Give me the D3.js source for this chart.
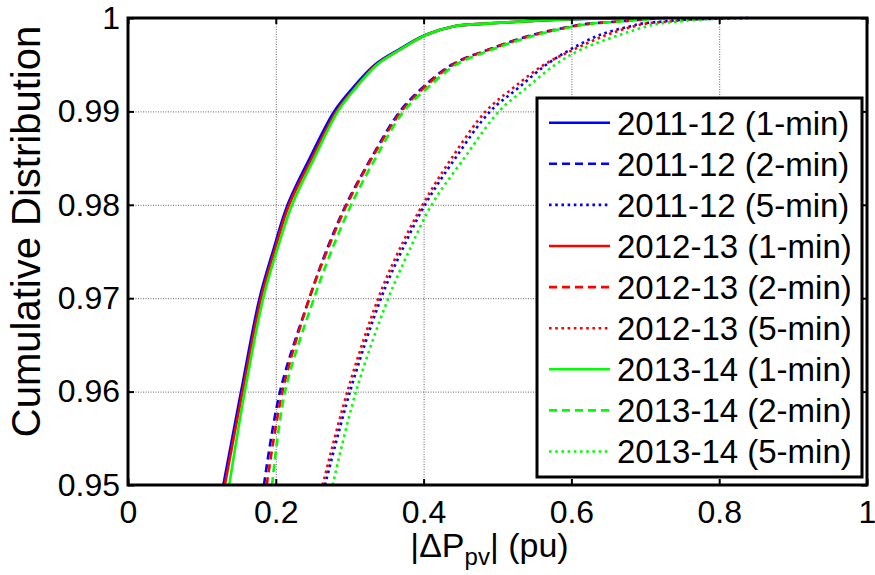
<!DOCTYPE html>
<html>
<head>
<meta charset="utf-8">
<script src="https://cdn.jsdelivr.net/npm/d3@7"></script>
<style>
  html, body { margin: 0; padding: 0; background: #fff; }
  svg { display: block; font-family: "Liberation Sans", Arial, sans-serif; }
</style>
</head>
<body>
<svg id="chart" width="875" height="575"></svg>
<script>
// ---- data ----
const cdfLevels = [0.95, 0.96, 0.97, 0.975, 0.98, 0.985, 0.99, 0.9925, 0.995, 0.9966, 0.9982, 0.9991, 0.9994, 0.9996, 0.9998, 1.0];

const x2011_1 = [0.129, 0.153, 0.178, 0.196, 0.216, 0.246, 0.279, 0.304, 0.334, 0.366, 0.403, 0.440, 0.484, 0.528, 0.575, 0.68];
const x2011_2 = [0.184, 0.2057, 0.2454, 0.268, 0.295, 0.329, 0.368, 0.398, 0.438, 0.487, 0.548, 0.600, 0.624, 0.660, 0.690, 0.73];
const x2011_5 = [0.2666, 0.3004, 0.3424, 0.370, 0.4019, 0.443, 0.490, 0.528, 0.566, 0.598, 0.6387, 0.679, 0.695, 0.720, 0.750, 0.84];
const x2012_1 = [0.131, 0.155, 0.180, 0.198, 0.218, 0.249, 0.282, 0.307, 0.336, 0.368, 0.404, 0.440, 0.484, 0.526, 0.571, 0.66];
const x2012_2 = [0.1877, 0.209, 0.2454, 0.269, 0.296, 0.330, 0.370, 0.400, 0.440, 0.488, 0.550, 0.602, 0.626, 0.661, 0.690, 0.72];
const x2012_5 = [0.2634, 0.2968, 0.3387, 0.366, 0.3987, 0.438, 0.484, 0.521, 0.563, 0.6026, 0.648, 0.684, 0.700, 0.729, 0.755, 0.80];
const x2013_1 = [0.137, 0.158, 0.183, 0.201, 0.222, 0.252, 0.284, 0.308, 0.337, 0.368, 0.404, 0.440, 0.484, 0.526, 0.575, 0.67];
const x2013_2 = [0.195, 0.2125, 0.2517, 0.275, 0.302, 0.335, 0.373, 0.405, 0.444, 0.492, 0.553, 0.604, 0.628, 0.663, 0.695, 0.73];
const x2013_5 = [0.277, 0.3085, 0.3523, 0.380, 0.4109, 0.455, 0.502, 0.539, 0.578, 0.6125, 0.6658, 0.702, 0.718, 0.7425, 0.770, 0.82];

const seriesNames = ["2011-12 (1-min)", "2011-12 (2-min)", "2011-12 (5-min)",
                     "2012-13 (1-min)", "2012-13 (2-min)", "2012-13 (5-min)",
                     "2013-14 (1-min)", "2013-14 (2-min)", "2013-14 (5-min)"];
const seriesX = [x2011_1, x2011_2, x2011_5, x2012_1, x2012_2, x2012_5, x2013_1, x2013_2, x2013_5];
const seriesColor = ["#0000ff", "#0000ff", "#0000ff", "#ff0000", "#ff0000", "#ff0000", "#00ff00", "#00ff00", "#00ff00"];
const seriesStyle = ["solid", "dashed", "dotted", "solid", "dashed", "dotted", "solid", "dashed", "dotted"];

const xTicks = [0, 0.2, 0.4, 0.6, 0.8, 1];
const yTicks = [0.95, 0.96, 0.97, 0.98, 0.99, 1];
const yLabel = "Cumulative Distribution";

// ---- layout ----
const W = 875, H = 575;
const m = { left: 128, right: 8, top: 18, bottom: 90 };
const pw = W - m.left - m.right, ph = H - m.top - m.bottom;
const dashFor = { solid: null, dashed: "8,5", dotted: "2.6,3.6" };

const svg = d3.select("#chart");
const g = svg.append("g").attr("transform", `translate(${m.left},${m.top})`);

const x = d3.scaleLinear().domain([0, 1]).range([0, pw]);
const y = d3.scaleLinear().domain([0.95, 1]).range([ph, 0]);

// grid
const gridX = g.append("g").attr("transform", `translate(0,${ph})`)
  .call(d3.axisBottom(x).tickValues(xTicks).tickSize(-ph).tickFormat(""));
const gridY = g.append("g")
  .call(d3.axisLeft(y).tickValues(yTicks).tickSize(-pw).tickFormat(""));
[gridX, gridY].forEach(s => {
  s.select(".domain").remove();
  s.selectAll("line").attr("stroke", "#666").attr("stroke-width", 1).attr("stroke-dasharray", "1,1.5");
});

// clip
svg.append("defs").append("clipPath").attr("id", "clip")
  .append("rect").attr("x", 0).attr("y", -2).attr("width", pw).attr("height", ph + 2);

const line = d3.line()
  .x(d => x(d[0])).y(d => y(d[1]))
  .curve(d3.curveCatmullRom.alpha(0.5));

const plot = g.append("g").attr("clip-path", "url(#clip)");
seriesX.forEach((xs, i) => {
  const pts = xs.map((v, k) => [v, cdfLevels[k]]);
  plot.append("path").datum(pts)
    .attr("d", line)
    .attr("fill", "none")
    .attr("stroke", seriesColor[i])
    .attr("stroke-width", 2.6)
    .attr("stroke-dasharray", dashFor[seriesStyle[i]]);
});

// axes (ticks inward)
const fs = 32;
const ax = g.append("g").attr("transform", `translate(0,${ph})`)
  .call(d3.axisBottom(x).tickValues(xTicks).tickSize(-6).tickPadding(15).tickFormat(d3.format("")));
const axT = g.append("g")
  .call(d3.axisTop(x).tickValues(xTicks).tickSize(-6).tickFormat(""));
const ay = g.append("g")
  .call(d3.axisLeft(y).tickValues(yTicks).tickSize(-6).tickPadding(8).tickFormat(d3.format("")));
const ayR = g.append("g").attr("transform", `translate(${pw},0)`)
  .call(d3.axisRight(y).tickValues(yTicks).tickSize(-6).tickFormat(""));
[ax, axT, ay, ayR].forEach(s => {
  s.select(".domain").remove();
  s.selectAll("line").attr("stroke", "#000").attr("stroke-width", 2);
  s.selectAll("text").attr("fill", "#000").attr("font-size", fs)
    .attr("font-family", "'Liberation Sans', Arial, sans-serif");
});

// legend
const lg = g.append("g");
const lx0 = 537 - m.left, ly0 = 98 - m.top, lw = 862 - 537, lh = 477 - 98;
lg.append("rect").attr("x", lx0).attr("y", ly0).attr("width", lw).attr("height", lh)
  .attr("fill", "#fff").attr("stroke", "#000").attr("stroke-width", 3);
seriesNames.forEach((name, i) => {
  const yy = 122.7 - m.top + 41.1 * i;
  lg.append("line").attr("x1", 549 - m.left).attr("x2", 610 - m.left)
    .attr("y1", yy).attr("y2", yy)
    .attr("stroke", seriesColor[i]).attr("stroke-width", 2.6)
    .attr("stroke-dasharray", dashFor[seriesStyle[i]]);
  lg.append("text").attr("x", 617 - m.left).attr("y", yy).attr("dy", "0.36em")
    .attr("font-size", 33).attr("fill", "#000").text(name);
});

// box
g.append("rect").attr("x", 0).attr("y", 0).attr("width", pw).attr("height", ph)
  .attr("fill", "none").attr("stroke", "#000").attr("stroke-width", 3);

// axis labels
const xl = svg.append("text").attr("x", m.left + pw / 2 - 8).attr("y", 557)
  .attr("text-anchor", "middle").attr("font-size", 34).attr("fill", "#000");
xl.append("tspan").text("|\u0394P");
xl.append("tspan").attr("font-size", 24).attr("dy", 8).text("pv");
xl.append("tspan").attr("dy", -8).text("| (pu)");

svg.append("text")
  .attr("transform", `translate(40,${m.top + ph / 2 - 20}) rotate(-90)`)
  .attr("text-anchor", "middle").attr("font-size", 40).attr("fill", "#000")
  .text(yLabel);
</script>
</body>
</html>
